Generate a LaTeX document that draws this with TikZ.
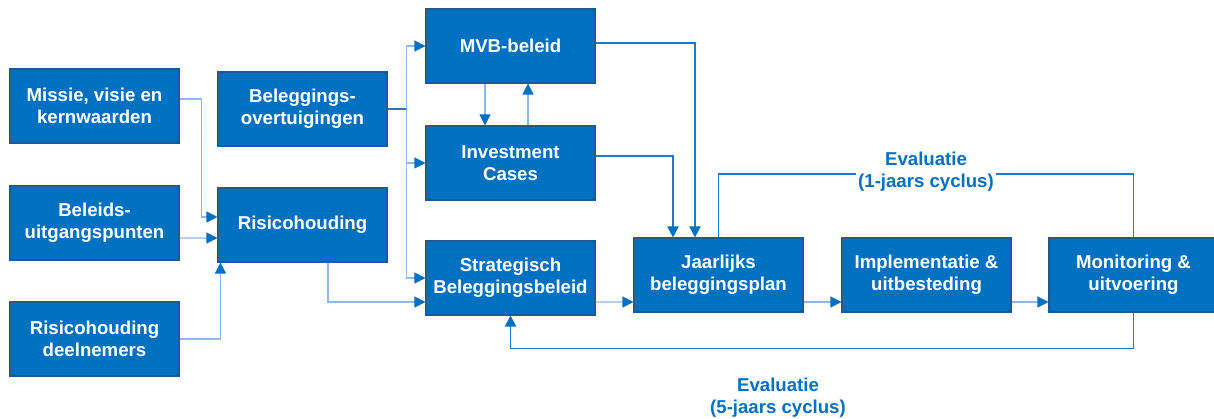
\documentclass[tikz,border=0pt]{standalone}
\usepackage{fontspec}
\setmainfont{Liberation Sans}
\usepackage{tikz}
\usetikzlibrary{arrows.meta,positioning,calc}
\definecolor{boxblue}{HTML}{0070C0}
\definecolor{boxedge}{HTML}{1B5A96}
\definecolor{lightline}{HTML}{8DB9E2}
\definecolor{midline}{HTML}{1F78C8}

\begin{document}
\begin{tikzpicture}[
  box/.style={draw=boxedge, line width=0.6pt, rectangle, minimum width=3.38cm, minimum height=1.48cm,
              fill=boxblue, text=white, font=\fontsize{10.6}{12.5}\selectfont\bfseries, align=center},
  flow/.style={draw=lightline, line width=0.6pt, -{Triangle[length=2.2mm,width=2.2mm,color=boxblue]}},
  feed/.style={draw=midline, line width=1.1pt, -{Triangle[length=2.2mm,width=2.2mm,color=boxblue]}},
  evaltxt/.style={font=\fontsize{10.6}{12.5}\selectfont\bfseries, text=boxblue, align=center, inner sep=1pt}
]
  \useasboundingbox (0,0) rectangle (24.28,8.38);

  \node[box] (missie)   at (1.89,6.26)  {Missie, visie en\\kernwaarden};
  \node[box] (beleids)  at (1.89,3.92)  {Beleids-\\uitgangspunten};
  \node[box] (deeln)    at (1.89,1.60)  {Risicohouding\\deelnemers};
  \node[box] (overtuig) at (6.05,6.20)  {Beleggings-\\overtuigingen};
  \node[box] (risico)   at (6.05,3.88)  {Risicohouding};
  \node[box] (mvb)      at (10.21,7.46) {MVB-beleid};
  \node[box] (invest)   at (10.21,5.12) {Investment\\Cases};
  \node[box] (sbb)      at (10.21,2.82) {Strategisch\\Beleggingsbeleid};
  \node[box] (jbp)      at (14.37,2.88) {Jaarlijks\\beleggingsplan};
  \node[box] (impl)     at (18.53,2.88) {Implementatie \&\\uitbesteding};
  \node[box] (monit)    at (22.67,2.88) {Monitoring \&\\uitvoering};

  % inputs for risicohouding
  \draw[flow] ([yshift=1.4mm]missie.east) -- ++(0.44,0) |- ([yshift=1.6mm]risico.west);
  \draw[flow] ([yshift=-3mm]beleids.east) -- ([yshift=-2.6mm]risico.west);
  \draw[flow] (deeln.east) -| ([xshift=0.6mm]risico.south west);
  \draw[flow] ([xshift=5.1mm]risico.south) |- ([yshift=-4.8mm]sbb.west);
  % overtuigingen split
  \coordinate (split) at ($(overtuig.east)+(0.38,0)$);
  \draw[midline, line width=1.1pt] (overtuig.east) -- (split);
  \draw[flow] (split) |- (mvb.west);
  \draw[flow] (split) |- (invest.west);
  \draw[flow] (split) |- (sbb.west);
  % mvb / investment cases
  \draw[flow] ([xshift=-5.1mm]mvb.south) -- ([xshift=-5.1mm]invest.north);
  \draw[flow] ([xshift=3.5mm]invest.north) -- ([xshift=3.5mm]mvb.south);
  \draw[feed] ([yshift=0.6mm]mvb.east) -| ([xshift=-4.7mm]jbp.north);
  \draw[feed] ([yshift=1.4mm]invest.east) -| ([xshift=-9.1mm]jbp.north);
  % main chain
  \draw[flow] ([yshift=-4.8mm]sbb.east) -- ([yshift=-5.4mm]jbp.west);
  \draw[flow] ([yshift=-5.4mm]jbp.east) -- ([yshift=-5.4mm]impl.west);
  \draw[flow] ([yshift=-5.4mm]impl.east) -- ([yshift=-5.4mm]monit.west);
  % evaluation loops
  \draw[feed, -] (jbp.north) -- ++(0,1.26)
    -| node[pos=0.25, fill=white, evaltxt, yshift=0.6mm] (eval1) {Evaluatie\\(1-jaars cyclus)} (monit.north);
  \draw[feed] (monit.south) -- ++(0,-0.72) -| (sbb.south);
  \node[evaltxt] (eval5) at (15.56,0.43) {Evaluatie\\(5-jaars cyclus)};

\end{tikzpicture}
\end{document}
